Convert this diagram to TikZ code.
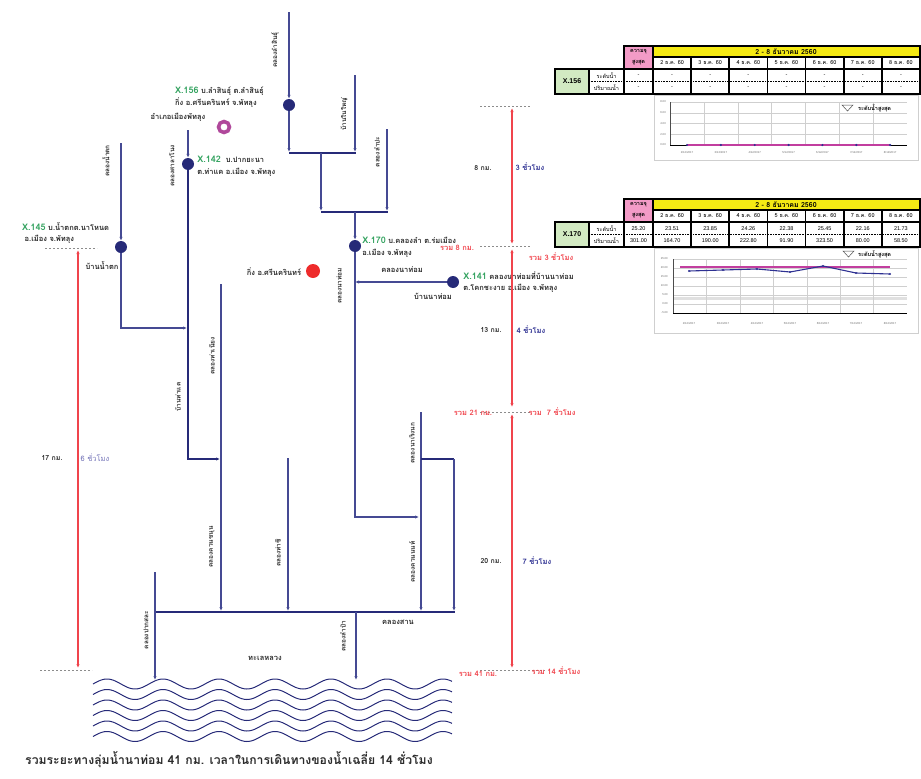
\documentclass[tikz,border=0pt]{standalone}
\usepackage{fontspec}
\setmainfont{Loma}[Script=Thai]
\newfontfamily\ntsans{Liberation Sans}
\usetikzlibrary{arrows.meta,calc,positioning}
\definecolor{NtRiver}{HTML}{262A78}
\definecolor{NtBranch}{HTML}{454A93}
\definecolor{NtGreen}{HTML}{33A25F}
\definecolor{NtRed}{HTML}{F0444C}
\definecolor{NtPink}{HTML}{F39BC7}
\definecolor{NtYellow}{HTML}{F5EA14}
\definecolor{NtCell}{HTML}{D2EAC2}
\definecolor{NtRing}{HTML}{B0489B}
\definecolor{NtDot}{HTML}{EE2B2B}
\definecolor{NtDash}{HTML}{8C8C8C}
\definecolor{NtGrid}{HTML}{CFCFCF}
\definecolor{NtMagenta}{HTML}{C23E9F}
\definecolor{NtText}{HTML}{2B2B2B}
\definecolor{NtHours}{HTML}{2E3192}
\definecolor{NtSerif}{HTML}{7474B8}
\tikzset{
  nt trunk/.style={draw=NtRiver,line width=2.1pt},
  nt branch/.style={draw=NtBranch,line width=1.3pt},
  nt flow/.style={-{Latex[length=4pt,width=3.4pt]}},
  nt station/.style={circle,fill=NtRiver,inner sep=0pt,minimum size=12pt},
  nt place/.style={
    font=\fontsize{7.5}{11.5}\selectfont\bfseries,
    text=NtText,
    align=left,
    inner sep=0pt
  },
  nt stream/.style={
    font=\fontsize{6.5}{7}\selectfont\bfseries,
    text=NtText,
    inner sep=0pt,
    rotate=90
  },
  nt km/.style={font=\fontsize{7}{8}\selectfont\bfseries,text=NtText,inner sep=0pt},
  nt hours/.style={font=\fontsize{7.5}{8}\selectfont\bfseries,text=NtHours,inner sep=0pt},
  nt total/.style={font=\fontsize{7.5}{8}\selectfont\bfseries,text=NtRed,inner sep=0pt},
  nt span/.style={{Latex[length=4pt,width=3.4pt]}-{Latex[length=4pt,width=3.4pt]},draw=NtRed,line width=1.3pt},
  nt level/.style={draw=NtDash,dash pattern=on 2pt off 2pt,line width=0.6pt},
  nt wave/.style={draw=NtRiver,line width=1pt},
  nt cell/.style={draw=black,line width=1.6pt},
  nt tab/.style={font=\fontsize{5.5}{6}\selectfont,inner sep=0pt},
  nt num/.style={font=\ntsans\fontsize{5.5}{6}\selectfont,inner sep=0pt},
  nt tiny/.style={font=\ntsans\fontsize{2.8}{3}\selectfont,text=black!60,inner sep=0pt}
}

\begin{document}
\begin{tikzpicture}[x=1pt,y=-1pt]
  \useasboundingbox (0,0) rectangle (921,779);

  \node[nt station] (x156) at (289,105) {};
  \node[nt station] (x142) at (188,164) {};
  \node[nt station] (x145) at (121,247) {};
  \node[nt station] (x170) at (355,246) {};
  \node[nt station] (x141) at (453,282) {};
  \node[circle,draw=NtRing,line width=3.6pt,fill=white,minimum size=11pt,inner sep=0pt] (muang) at (224,127) {};
  \node[circle,fill=NtDot,minimum size=14pt,inner sep=0pt] (srinagarindra) at (313,271) {};

  \coordinate (lsTop) at (289,12);
  \coordinate (lsJoin) at (289,152);
  \coordinate (nyTop) at (355,75);
  \coordinate (nyJoin) at (355,152);
  \coordinate (upMid) at (321,153);
  \coordinate (upJoin) at (321,211);
  \coordinate (lpTop) at (387,129);
  \coordinate (lpJoin) at (387,211);
  \coordinate (lkOut) at (355,212);
  \coordinate (ntBend) at (355,517);
  \coordinate (ntEnd) at (419,517);
  \coordinate (ntIn) at (355,282);
  \coordinate (nkTop) at (121,143);
  \coordinate (nkBend) at (121,328);
  \coordinate (nkEnd) at (187,328);
  \coordinate (snTop) at (188,130);
  \coordinate (snBend) at (188,459);
  \coordinate (snEnd) at (220,459);
  \coordinate (tnTop) at (221,284);
  \coordinate (tnEnd) at (221,611);
  \coordinate (tcTop) at (288,458);
  \coordinate (tcEnd) at (288,611);
  \coordinate (rnTop) at (421,412);
  \coordinate (rnFork) at (421,459);
  \coordinate (rnEnd) at (421,611);
  \coordinate (ktBend) at (454,459);
  \coordinate (ktEnd) at (454,611);
  \coordinate (sanWest) at (155,612);
  \coordinate (sanEast) at (455,612);
  \coordinate (psTop) at (155,572);
  \coordinate (psEnd) at (155,680);
  \coordinate (lmTop) at (356,612);
  \coordinate (lmEnd) at (356,680);

  \draw[nt branch,nt flow] (lsTop) -- (x156);
  \draw[nt branch,nt flow] (x156) -- (lsJoin);
  \draw[nt branch,nt flow] (nyTop) -- (nyJoin);
  \draw[nt trunk] (289,153) -- (356,153);
  \draw[nt branch,nt flow] (upMid) -- (upJoin);
  \draw[nt branch,nt flow] (lpTop) -- (lpJoin);
  \draw[nt trunk] (321,212) -- (388,212);
  \draw[nt branch,nt flow] (lkOut) -- (x170);
  \draw[nt branch,nt flow] (x170) -- (ntBend) -- (ntEnd);
  \draw[nt branch,nt flow] (x141) -- (ntIn);
  \draw[nt branch,nt flow] (nkTop) -- (x145);
  \draw[nt branch,nt flow] (x145) -- (nkBend) -- (nkEnd);
  \draw[nt branch,nt flow] (snTop) -- (x142);
  \draw[nt trunk,nt flow] (x142) -- (snBend) -- (snEnd);
  \draw[nt branch,nt flow] (tnTop) -- (tnEnd);
  \draw[nt branch,nt flow] (tcTop) -- (tcEnd);
  \draw[nt branch,nt flow] (rnTop) -- (rnEnd);
  \draw[nt trunk] (rnFork) -- (ktBend);
  \draw[nt branch,nt flow] (ktBend) -- (ktEnd);
  \draw[nt trunk] (sanWest) -- (sanEast);
  \draw[nt branch,nt flow] (psTop) -- (psEnd);
  \draw[nt branch,nt flow] (lmTop) -- (lmEnd);

  \foreach \k in {0,...,5}
    \draw[nt wave] plot[domain=93:452,samples=160] (\x,{684+10.5*\k-5*sin(6.4286*(\x-93))});

  \node[nt place,anchor=west] (x156lbl) at (175,97) {\textcolor{NtGreen}{\fontsize{9}{9}\selectfont X.156} บ.ลำสินธุ์ ต.ลำสินธุ์\\กิ่ง อ.ศรีนครินทร์ จ.พัทลุง};
  \node[nt place,right=3pt of x142,yshift=-2pt] (x142lbl) {\textcolor{NtGreen}{\fontsize{9}{9}\selectfont X.142} \ บ.ปากยะนา\\ต.ท่าแค อ.เมือง จ.พัทลุง};
  \node[nt place,anchor=west] (x145lbl) at (22,233) {\textcolor{NtGreen}{\fontsize{9}{9}\selectfont X.145} บ.น้ำตกต.นาโหนด\\\ อ.เมือง จ.พัทลุง};
  \node[nt place,right=1pt of x170,yshift=-1pt] (x170lbl) {\textcolor{NtGreen}{\fontsize{9}{9}\selectfont X.170} บ.คลองลำ ต.ร่มเมือง\\อ.เมือง จ.พัทลุง};
  \node[nt place,right=4pt of x141] (x141lbl) {\textcolor{NtGreen}{\fontsize{9}{9}\selectfont X.141} คลองนาท่อมที่บ้านนาท่อม\\ต.โคกชะงาย อ.เมือง จ.พัทลุง};
  \node[nt place] (muanglbl) at (178,117) {อำเภอเมืองพัทลุง};
  \node[nt place] (srilbl) at (274,272) {กิ่ง อ.ศรีนครินทร์};
  \node[nt place] (nathomlbl) at (402,270) {คลองนาท่อม};
  \node[nt place] (bannathom) at (433,296) {บ้านนาท่อม};
  \node[nt place] (bannamtok) at (102,266) {บ้านน้ำตก};
  \node[nt place] (sanlbl) at (398,622) {คลองสาน};
  \node[nt place] (thalelbl) at (265,658) {ทะเลหลวง};

  \node[nt stream] (lamsinlbl) at (275,50) {คลองลำสินธุ์};
  \node[nt stream] (naiyailbl) at (344,114) {บ้านในใหญ่};
  \node[nt stream] (lampalbl) at (377,152) {คลองลำปะ};
  \node[nt stream] (namtoklbl) at (106,161) {คลองน้ำตก};
  \node[nt stream] (salalbl) at (172,166) {คลองศาลาโนง};
  \node[nt stream] (thakhaelbl) at (178,397) {บ้านท่าแค};
  \node[nt stream] (thanaelbl) at (212,356) {คลองท่าเนียง};
  \node[nt stream] (nathomvlbl) at (339,286) {คลองนาท่อม};
  \node[nt stream] (khuanlbl) at (212,547) {คลองควนขนุน};
  \node[nt stream] (thachilbl) at (278,553) {คลองท่าชี};
  \node[nt stream] (roenglbl) at (412,443) {คลองนาเริงนก};
  \node[nt stream] (khuannonlbl) at (412,562) {คลองควนนนท์};
  \node[nt stream] (paksalalbl) at (146,630) {คลองปากสละ};
  \node[nt stream] (lampamlbl) at (343,636) {คลองลำปำ};

  \coordinate (rTop) at (512,106);
  \coordinate (r8) at (512,246);
  \coordinate (r21) at (512,412);
  \coordinate (r41) at (512,670);
  \coordinate (lTop) at (78,248);
  \coordinate (l17) at (78,670);
  \draw[nt level] (480,106) -- (530,106);
  \draw[nt level] (480,246) -- (530,246);
  \draw[nt level] (480,412) -- (530,412);
  \draw[nt level] (480,670) -- (545,670);
  \draw[nt level] (45,248) -- (97,248);
  \draw[nt level] (40,670) -- (92,670);
  \draw[nt span] ($(rTop)+(0,2)$) -- ($(r8)+(0,-2)$);
  \draw[nt span] ($(r8)+(0,3)$) -- ($(r21)+(0,-5)$);
  \draw[nt span] ($(r21)+(0,2)$) -- ($(r41)+(0,-2)$);
  \draw[nt span] ($(lTop)+(0,2)$) -- ($(l17)+(0,-2)$);

  \node[nt km] (km8) at (483,168) {8 กม.};
  \node[nt hours] (h3) at (530,167) {3 ชั่วโมง};
  \node[nt total] (sum8) at (457,248) {รวม 8 กม.};
  \node[nt total] (sumh3) at (551,257) {รวม 3 ชั่วโมง};
  \node[nt km] (km13) at (491,330) {13 กม.};
  \node[nt hours] (h4) at (531,330) {4 ชั่วโมง};
  \node[nt total] (sum21) at (473,413) {รวม 21 กม.};
  \node[nt total] (sumh7) at (552,412) {รวม \ 7 ชั่วโมง};
  \node[nt km] (km20) at (491,561) {20 กม.};
  \node[nt hours] (h7) at (537,561) {7 ชั่วโมง};
  \node[nt total] (sum41) at (478,674) {รวม 41 กม.};
  \node[nt total] (sumh14) at (556,671) {รวม 14 ชั่วโมง};
  \node[nt km] (km17) at (52,458) {17 กม.};
  \node[font=\fontsize{7.5}{8}\selectfont,text=NtSerif,inner sep=0pt] (h6) at (95,458) {6 ชั่วโมง};

  \node[anchor=west,font=\fontsize{12.2}{13}\selectfont\bfseries,text=NtText,inner sep=0pt] (summary) at (25,760)
    {รวมระยะทางลุ่มน้ำนาท่อม 41 กม. เวลาในการเดินทางของน้ำเฉลี่ย 14 ชั่วโมง};

  \foreach \oy/\st in {0/156,153/170} {
    \begin{scope}[yshift=-\oy pt]
      \filldraw[nt cell,fill=NtPink] (624,46) rectangle (653,69);
      \filldraw[nt cell,fill=NtYellow] (653,46) rectangle (920,57);
      \draw[nt cell] (653,57) rectangle (920,69);
      \filldraw[nt cell,fill=NtCell] (555,69) rectangle (589,94);
      \draw[nt cell] (589,69) rectangle (920,94);
      \draw[nt cell] (624,69) -- (624,94);
      \foreach \c in {1,...,6}
        \draw[nt cell] ({653+38.14*\c},57) -- ({653+38.14*\c},94);
      \draw[nt cell] (653,69) -- (653,94);
      \draw[black,line width=0.9pt,dash pattern=on 0.8pt off 0.8pt] (589,81.5) -- (920,81.5);
      \node[nt tab,font=\fontsize{5.5}{6}\selectfont\bfseries] (cap\st) at (638.5,51.5) {ความจุ};
      \node[nt tab,font=\fontsize{5.5}{6}\selectfont\bfseries] (max\st) at (638.5,63) {สูงสุด};
      \node[nt tab,font=\fontsize{7}{7}\selectfont\bfseries] (week\st) at (786,51.5) {2 - 8 ธันวาคม 2560};
      \foreach \c in {1,...,7}
        \node[nt tab] (d\st\c) at ({653+38.14*(\c-0.5)},63) {\the\numexpr\c+1\relax\ ธ.ค. 60};
      \node[nt num,font=\ntsans\fontsize{7}{7}\selectfont\bfseries] (id\st) at (572,81.5) {X.\st};
      \node[nt tab] (lv\st) at (606.5,75.5) {ระดับน้ำ};
      \node[nt tab] (vol\st) at (606.5,88) {ปริมาณน้ำ};
    \end{scope}
  }
  \node[nt num] (a0) at (638.5,75.5) {-};
  \node[nt num] (b0) at (638.5,88) {-};
  \foreach \c in {1,...,7} {
    \node[nt num] (a\c) at ({653+38.14*(\c-0.5)},75.5) {-};
    \node[nt num] (b\c) at ({653+38.14*(\c-0.5)},88) {-};
  }
  \node[nt num] (p0) at (638.5,228.5) {25.20};
  \node[nt num] (q0) at (638.5,241) {301.00};
  \foreach \c/\lv/\vol in {1/23.51/164.70,2/23.85/190.00,3/24.26/222.80,4/22.38/91.90,5/25.45/323.50,6/22.16/80.00,7/21.73/58.50} {
    \node[nt num] (p\c) at ({653+38.14*(\c-0.5)},228.5) {\lv};
    \node[nt num] (q\c) at ({653+38.14*(\c-0.5)},241) {\vol};
  }

  \draw[NtGrid,line width=0.6pt] (654,95) rectangle (918,160);
  \foreach \k/\t in {0/8.00,1/6.00,2/4.00,3/2.00,4/0.00} {
    \draw[NtGrid,line width=0.4pt] (670,{102+10.75*\k}) -- (907,{102+10.75*\k});
    \node[nt tiny,anchor=east] (ya\k) at (666,{102+10.75*\k}) {\t};
  }
  \foreach \k in {1,...,6}
    \draw[NtGrid,line width=0.4pt] ({670+33.86*\k},102) -- ({670+33.86*\k},145);
  \draw[black!70,line width=0.6pt] (670,102) -- (670,145);
  \draw[black,line width=1pt] (670,145) -- (907,145);
  \draw[NtMagenta,line width=1.2pt] (687,145) -- (890,145);
  \foreach \k in {0,...,6} {
    \fill[NtHours] ({687+33.86*\k},145) circle (1.2pt);
    \node[nt tiny] (xa\k) at ({687+33.86*\k},152) {\the\numexpr\k+2\relax/12/2017};
  }
  \draw[black!70,line width=0.5pt] (842,105) -- (853,105) -- (847.5,111) -- cycle;
  \node[nt tab,font=\fontsize{5.5}{6}\selectfont\bfseries,anchor=west] (legA) at (858,108) {ระดับน้ำสูงสุด};

  \draw[NtGrid,line width=0.6pt] (654,248) rectangle (918,333);
  \draw[black!12,line width=3pt] (673,298) -- (907,298);
  \foreach \k/\t in {0/25.00,1/20.00,2/15.00,3/10.00,4/5.00,5/0.00,6/-5.00} {
    \draw[NtGrid,line width=0.4pt] (673,{259+9*\k}) -- (907,{259+9*\k});
    \node[nt tiny,anchor=east] (yb\k) at (668,{259+9*\k}) {\t};
  }
  \foreach \k in {1,...,6}
    \draw[NtGrid,line width=0.4pt] ({673+33.43*\k},259) -- ({673+33.43*\k},313);
  \draw[black!70,line width=0.6pt] (673,259) -- (673,313);
  \draw[black,line width=1pt] (673,313) -- (907,313);
  \draw[NtMagenta,line width=1.2pt] (680,267) -- (890,267);
  \draw[NtHours,line width=1.1pt] (689,271) -- (723,270) -- (757,269) -- (790,272) -- (823,266) -- (856,273) -- (890,274);
  \foreach \px/\py [count=\k from 0] in {689/271,723/270,757/269,790/272,823/266,856/273,890/274} {
    \fill[NtHours] (\px,\py) circle (1.2pt);
    \node[nt tiny] (xb\k) at (\px,323) {\the\numexpr\k+2\relax/12/2017};
  }
  \draw[black!70,line width=0.5pt] (843,251) -- (854,251) -- (848.5,257) -- cycle;
  \node[nt tab,font=\fontsize{5.5}{6}\selectfont\bfseries,anchor=west] (legB) at (858,254) {ระดับน้ำสูงสุด};
\end{tikzpicture}
\end{document}
